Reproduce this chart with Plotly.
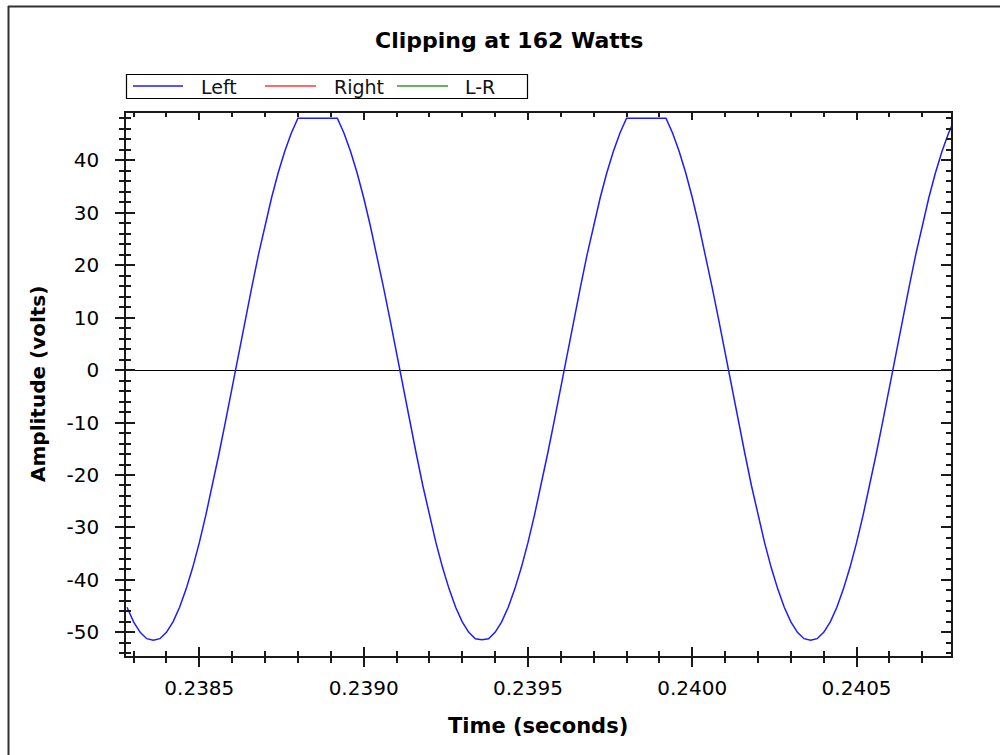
import numpy as np
import plotly.graph_objects as go

# Left channel output, 1 kHz tone clipped at the amplifier rail
SAMPLE_RATE = 50000          # samples per second
START_TIME = 0.23828         # seconds

left_volts = [
    -45.2, -48.0, -50.0, -51.2, -51.5, -51.2, -50.0, -48.0, -45.2, -41.7,
    -37.6, -32.9, -27.6, -22.0, -15.9, -9.7, -3.2, 3.2, 9.7, 15.9,
    22.0, 27.6, 32.9, 37.6, 41.7, 45.2, 48.0, 48.0, 48.0, 48.0,
    48.0, 48.0, 48.0, 45.2, 41.7, 37.6, 32.9, 27.6, 22.0, 15.9,
    9.7, 3.2, -3.2, -9.7, -15.9, -22.0, -27.6, -32.9, -37.6, -41.7,
    -45.2, -48.0, -50.0, -51.2, -51.4, -51.2, -50.0, -48.0, -45.2, -41.7,
    -37.6, -32.9, -27.6, -22.0, -15.9, -9.7, -3.2, 3.2, 9.7, 15.9,
    22.0, 27.6, 32.9, 37.6, 41.7, 45.2, 48.0, 48.0, 48.0, 48.0,
    48.0, 48.0, 48.0, 45.2, 41.7, 37.6, 32.9, 27.6, 22.0, 15.9,
    9.7, 3.2, -3.2, -9.7, -15.9, -22.0, -27.6, -32.9, -37.6, -41.7,
    -45.2, -48.0, -50.0, -51.2, -51.5, -51.2, -50.0, -48.0, -45.2, -41.7,
    -37.6, -32.9, -27.6, -22.0, -15.9, -9.7, -3.2, 3.2, 9.7, 15.9,
    22.0, 27.6, 32.9, 37.6, 41.7, 45.2, 48.0,
]
time_s = START_TIME + np.arange(len(left_volts)) / SAMPLE_RATE

series_names = ["Left", "Right", "L-R"]
series_colors = ["#1c1cff", "#ff3a3a", "#2f9f2f"]

x_tick_values = [0.2385, 0.2390, 0.2395, 0.2400, 0.2405]
x_tick_labels = ["0.2385", "0.2390", "0.2395", "0.2400", "0.2405"]
y_tick_values = [-50, -40, -30, -20, -10, 0, 10, 20, 30, 40]
y_tick_labels = ["-50", "-40", "-30", "-20", "-10", "0", "10", "20", "30", "40"]

x_range = [0.2382769, 0.2407873]
y_range = [-54.5, 49.0]
x_minor = 0.0001
y_minor = 2

W, H = 1000, 755
ML, MR, MT, MB = 126, 49, 113, 99
PW, PH = W - ML - MR, H - MT - MB


def px(x):
    return (x - ML) / PW


def py(y):
    return (H - MB - y) / PH


AXIS_COLOR = "#1a1a1a"
FONT = "DejaVu Sans"

fig = go.Figure()
fig.add_trace(go.Scatter(
    x=time_s, y=left_volts, mode="lines", name=series_names[0],
    line=dict(color=series_colors[0], width=1.5), showlegend=False,
    xaxis="x", yaxis="y",
))

# Empty traces so the extra tick-only axes get rendered
for xa, ya in [("x2", "y"), ("x3", "y"), ("x", "y2"), ("x", "y3")]:
    fig.add_trace(go.Scatter(x=[None], y=[None], mode="lines", xaxis=xa,
                             yaxis=ya, showlegend=False, hoverinfo="skip"))


def x_axis(**kw):
    base = dict(range=x_range, tickmode="array", tickvals=x_tick_values,
                ticktext=x_tick_labels, tickcolor=AXIS_COLOR, tickwidth=1.5,
                showgrid=False, zeroline=False)
    base.update(kw)
    return base


def y_axis(**kw):
    base = dict(range=y_range, tickmode="array", tickvals=y_tick_values,
                ticktext=y_tick_labels, tickcolor=AXIS_COLOR, tickwidth=1.5,
                showgrid=False, zeroline=False)
    base.update(kw)
    return base


def minor_x(ticks, length):
    return dict(tick0=0, dtick=x_minor, ticks=ticks, ticklen=length,
                tickcolor=AXIS_COLOR, tickwidth=1.5, showgrid=False)


def minor_y(ticks, length):
    return dict(tick0=0, dtick=y_minor, ticks=ticks, ticklen=length,
                tickcolor=AXIS_COLOR, tickwidth=1.5, showgrid=False)


fig.update_layout(
    width=W, height=H,
    margin=dict(l=ML, r=MR, t=MT, b=MB),
    paper_bgcolor="white", plot_bgcolor="white",
    showlegend=False,
    font=dict(family=FONT, size=20, color="black"),
    xaxis=x_axis(ticks="outside", ticklen=9, ticklabelstandoff=4,
                 minor=minor_x("outside", 5),
                 showline=True, linecolor=AXIS_COLOR, linewidth=1.5,
                 mirror=True, tickfont=dict(size=20)),
    xaxis2=x_axis(overlaying="x", matches="x", anchor="y", side="bottom",
                  ticks="inside", ticklen=9, showticklabels=False,
                  minor=minor_x("inside", 5), showline=False),
    xaxis3=x_axis(overlaying="x", matches="x", anchor="y", side="top",
                  ticks="inside", ticklen=7, showticklabels=False,
                  minor=minor_x("inside", 4), showline=False),
    yaxis=y_axis(ticks="outside", ticklen=9, ticklabelstandoff=12,
                 minor=minor_y("outside", 5),
                 showline=True, linecolor=AXIS_COLOR, linewidth=1.5,
                 mirror=True, zeroline=True, zerolinecolor="black",
                 zerolinewidth=1, tickfont=dict(size=20)),
    yaxis2=y_axis(overlaying="y", matches="y", anchor="x", side="left",
                  ticks="inside", ticklen=9, showticklabels=False,
                  minor=minor_y("inside", 5), showline=False),
    yaxis3=y_axis(overlaying="y", matches="y", anchor="x", side="right",
                  ticks="inside", ticklen=10, showticklabels=False,
                  minor=minor_y("inside", 5), showline=False),
)

shapes = []
annotations = []

# Window frame (top and left edges)
shapes.append(dict(type="line", xref="paper", yref="paper",
                   x0=px(8), y0=py(6.5), x1=px(1000), y1=py(6.5),
                   line=dict(color="#303030", width=2)))
shapes.append(dict(type="line", xref="paper", yref="paper",
                   x0=px(8.5), y0=py(6), x1=px(8.5), y1=py(755),
                   line=dict(color="#303030", width=2)))

# Legend box
shapes.append(dict(type="rect", xref="paper", yref="paper",
                   x0=px(126.5), y0=py(74.5), x1=px(527.5), y1=py(98.5),
                   line=dict(color="black", width=1.2), fillcolor="white"))
legend_line_x = [(133, 183), (265, 316), (397, 448)]
legend_text_x = [199, 332, 463]
for name, color, (lx0, lx1), tx in zip(series_names, series_colors,
                                        legend_line_x, legend_text_x):
    shapes.append(dict(type="line", xref="paper", yref="paper",
                       x0=px(lx0), y0=py(86), x1=px(lx1), y1=py(86),
                       line=dict(color=color, width=1.3)))
    annotations.append(dict(text=name, xref="paper", yref="paper",
                            x=px(tx), y=py(86.5), xanchor="left",
                            yanchor="middle", showarrow=False,
                            font=dict(family=FONT, size=19, color="#111")))

# Titles
annotations.append(dict(text="Clipping at 162 Watts", xref="paper", yref="paper",
                        x=px(509), y=py(41), xanchor="center", yanchor="middle",
                        showarrow=False,
                        font=dict(family=FONT, size=22, weight="bold")))
annotations.append(dict(text="Time (seconds)", xref="paper", yref="paper",
                        x=px(538), y=py(726), xanchor="center", yanchor="middle",
                        showarrow=False,
                        font=dict(family=FONT, size=21, weight="bold")))
annotations.append(dict(text="Amplitude (volts)", xref="paper", yref="paper",
                        x=px(38), y=py(384), xanchor="center", yanchor="middle",
                        textangle=-90, showarrow=False,
                        font=dict(family=FONT, size=20, weight="bold")))

fig.update_layout(shapes=shapes, annotations=annotations)

fig.write_html("out.html")
